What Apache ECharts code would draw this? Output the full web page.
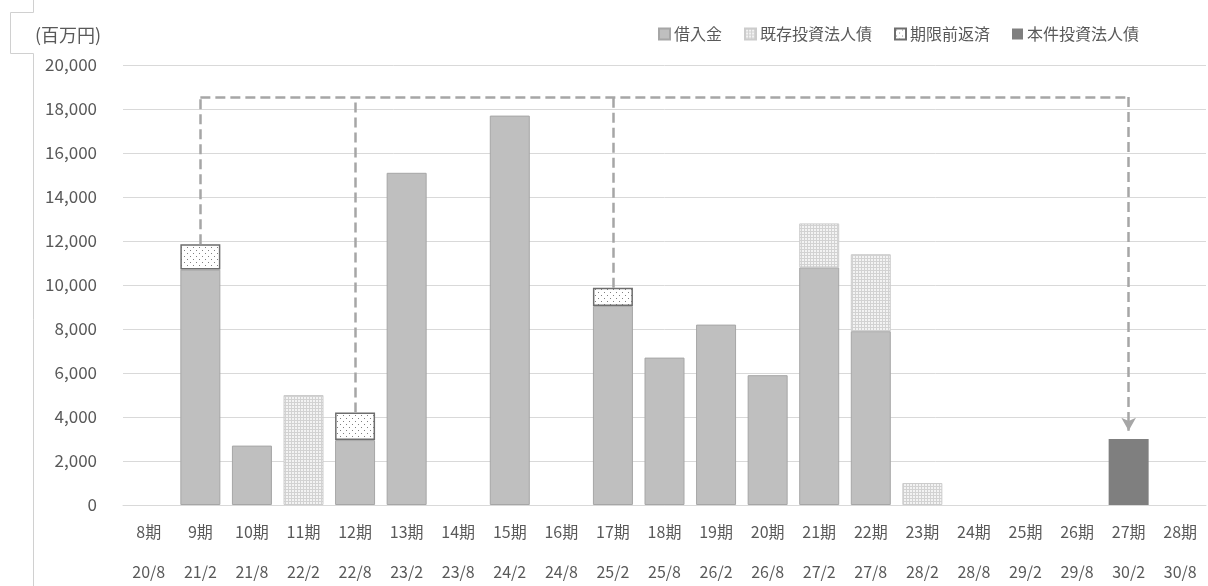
<!DOCTYPE html>
<html>
<head>
<meta charset="utf-8">
<script src="https://cdn.jsdelivr.net/npm/echarts@6/dist/echarts.min.js"></script>
<style>
html,body{margin:0;padding:0;background:#fff;}
#chart{width:1208px;height:586px;}
</style>
</head>
<body>
<div id="chart"></div>
<script>
// ---- data ----
const periods = ['8期','9期','10期','11期','12期','13期','14期','15期','16期','17期','18期','19期','20期','21期','22期','23期','24期','25期','26期','27期','28期'];
const dates   = ['20/8','21/2','21/8','22/2','22/8','23/2','23/8','24/2','24/8','25/2','25/8','26/2','26/8','27/2','27/8','28/2','28/8','29/2','29/8','30/2','30/8'];
const loans        = ['-',10700,2700,'-',2950,15100,'-',17700,'-',9050,6700,8200,5900,10800,7900,'-','-','-','-','-','-'];
const existingBond = ['-','-','-',5000,'-','-','-','-','-','-','-','-','-',2000,3500,1000,'-','-','-','-','-'];
const prepayment   = ['-',1150,'-','-',1250,'-','-','-','-',820,'-','-','-','-','-','-','-','-','-','-','-'];
const newBond      = ['-','-','-','-','-','-','-','-','-','-','-','-','-','-','-','-','-','-','-',3000,'-'];
const seriesNames  = ['借入金','既存投資法人債','期限前返済','本件投資法人債'];
const yTicks = {min:0, max:20000, interval:2000};
// flow arrow (category, value) pairs
const flowLevel = 18550;
const flowSources = [['9期',11850],['12期',4200],['17期',9870]];
const flowTarget = ['27期',3380];

function makePattern(kind){
  const c = document.createElement('canvas');
  if(kind==='grid'){
    c.width=3;c.height=3;
    const g=c.getContext('2d');
    g.fillStyle='#f3f3f3';g.fillRect(0,0,3,3);
    g.fillStyle='#d2d2d2';
    g.fillRect(0,0,3,1);g.fillRect(0,0,1,3);
  } else {
    c.width=6;c.height=6;
    const g=c.getContext('2d');
    g.fillStyle='#ffffff';g.fillRect(0,0,6,6);
    g.fillStyle='#808080';
    g.fillRect(1,1,1,1);g.fillRect(4,4,1,1);
  }
  return {image:c, repeat:'repeat'};
}

const font = "'Noto Sans CJK JP', sans-serif";
const textColor = '#595959';
const chart = echarts.init(document.getElementById('chart'));

const flowLines = [];
flowSources.forEach(s=>{
  flowLines.push([{coord:[s[0],s[1]],symbol:'none'},{coord:[s[0],flowLevel],symbol:'none'}]);
});
flowLines.push([{coord:[flowSources[0][0],flowLevel],symbol:'none'},{coord:[flowTarget[0],flowLevel],symbol:'none'}]);
flowLines.push([{coord:[flowTarget[0],flowLevel],symbol:'none'},{coord:[flowTarget[0],flowTarget[1]],symbol:'arrow',symbolSize:[11,13]}]);

chart.setOption({
  animation:false,
  backgroundColor:'#fff',
  textStyle:{fontFamily:font},
  grid:{left:123,right:2,top:65,bottom:81,containLabel:false},
  legend:{
    left:653, top:21, itemWidth:11, itemHeight:11, itemGap:22, icon:'rect',
    textStyle:{color:textColor,fontSize:16,fontFamily:font,padding:[0,0,0,-1]},
    data:seriesNames
  },
  graphic:[
    {type:'polyline',silent:true,shape:{points:[[33.5,0],[33.5,12.5],[10.5,12.5],[10.5,53.5],[33.5,53.5],[33.5,586]]},style:{fill:null,stroke:'#d0d0d0',lineWidth:1}},
    {type:'text',left:35,top:26,style:{text:'(百万円)',fill:textColor,font:"18px 'Noto Sans CJK JP'"}}
  ],
  xAxis:{
    type:'category', data:periods,
    axisLine:{lineStyle:{color:'#d9d9d9'}},
    axisTick:{show:false},
    axisLabel:{
      margin:7, interval:0,
      formatter:(v,i)=>'{a|'+v+'}\n{a|'+dates[i]+'}',
      rich:{a:{fontSize:16,lineHeight:40,color:textColor,fontFamily:font}}
    }
  },
  yAxis:{
    type:'value', min:yTicks.min, max:yTicks.max, interval:yTicks.interval,
    axisLine:{show:false}, axisTick:{show:false},
    splitLine:{lineStyle:{color:'#d9d9d9',width:1}},
    axisLabel:{margin:26,fontSize:17,color:textColor,fontFamily:font,
      formatter:v=>v.toLocaleString('en-US')}
  },
  series:[
    {name:seriesNames[0],type:'bar',stack:'s',barWidth:40,data:loans,
      itemStyle:{color:'#bfbfbf',borderColor:'#a6a6a6',borderWidth:1}},
    {name:seriesNames[1],type:'bar',stack:'s',barWidth:40,data:existingBond,
      itemStyle:{color:makePattern('grid'),borderColor:'#cccccc',borderWidth:1}},
    {name:seriesNames[2],type:'bar',stack:'s',barWidth:40,data:prepayment,
      itemStyle:{color:makePattern('dots'),borderColor:'#6e6e6e',borderWidth:1.5}},
    {name:seriesNames[3],type:'bar',stack:'s',barWidth:40,data:newBond,
      itemStyle:{color:'#7f7f7f'},
      markLine:{silent:true,animation:false,label:{show:false},
        lineStyle:{type:[10,5],color:'#a6a6a6',width:2.5},
        emphasis:{disabled:true},
        data:flowLines}}
  ]
});
</script>
</body>
</html>
